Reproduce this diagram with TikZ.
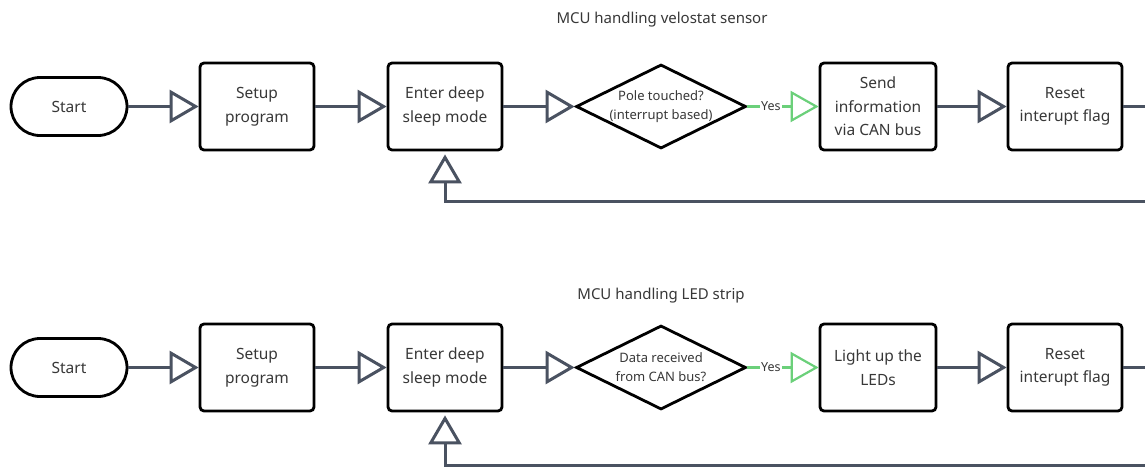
\documentclass[tikz,border=0pt]{standalone}
\usepackage{fontspec}
\setmainfont{Noto Sans}
\usetikzlibrary{arrows.meta,shapes.geometric}
\definecolor{edgegray}{HTML}{4A5261}
\definecolor{yesgreen}{HTML}{6BD07A}
\definecolor{txt}{HTML}{383838}
\tikzset{
  procbox/.style={draw=black, line width=2.8pt, rounded corners=4pt, fill=white,
    minimum width=114pt, minimum height=87pt, inner sep=2pt, align=center,
    text=txt, font=\fontsize{15.5}{23.5}\selectfont},
  termbox/.style={draw=black, line width=2.8pt, rounded corners=29pt, fill=white,
    minimum width=116pt, minimum height=58pt, text=txt, font=\fontsize{15.5}{23.5}\selectfont},
  decbox/.style={draw=black, line width=2.8pt, diamond, aspect=2, fill=white,
    minimum width=170pt, minimum height=84pt, inner sep=0pt, align=center,
    text=txt, font=\fontsize{13}{19}\selectfont},
  titletext/.style={text=txt, font=\fontsize{15}{18}\selectfont},
  plainline/.style={draw=edgegray, line width=3pt},
  flow/.style={plainline, -{Triangle[open, length=29pt, width=33pt, fill=white]}},
  yesflow/.style={draw=yesgreen, line width=2.2pt, -{Triangle[open, length=28pt, width=31pt, fill=white]}},
  yeslabel/.style={fill=white, text=txt, inner sep=1pt, font=\fontsize{12.5}{14}\selectfont},
}
\begin{document}
\begin{tikzpicture}[x=1pt, y=-1pt]
\useasboundingbox (0,0) rectangle (1145,469);
\clip (0,0) rectangle (1145,469);
\fill[white] (0,0) rectangle (1145,469);

% ---- velostat sensor controller ----
\node[titletext] (t1) at (662,20) {MCU handling velostat sensor};
\node[termbox] (s1) at (69,106.5) {Start};
\node[procbox] (p1) at (257,106.5) {Setup\\program};
\node[procbox] (e1) at (445,106.5) {Enter deep\\sleep mode};
\node[decbox] (d1) at (661,106.5) {Pole touched?\\(interrupt based)};
\node[procbox, minimum width=116pt] (c1) at (878,106.5) {Send\\information\\via CAN bus};
\node[procbox] (r1) at (1065,106.5) {Reset\\interupt flag};
\coordinate (o1) at (1160,106.5);
\coordinate (b1) at (1160,201);

\draw[flow] (s1) -- (p1);
\draw[flow] (p1) -- (e1);
\draw[flow] (e1) -- (d1);
\draw[yesflow] (d1) -- node[yeslabel, pos=0.33] {Yes} (c1);
\draw[flow] (c1) -- (r1);
\draw[plainline] (r1) -- (o1);
\draw[flow, shorten >=3pt] (b1) -| (e1.south);

% ---- LED strip controller ----
\node[titletext] (t2) at (661,296) {MCU handling LED strip};
\node[termbox] (s2) at (69,367.5) {Start};
\node[procbox] (p2) at (257,367.5) {Setup\\program};
\node[procbox] (e2) at (445,367.5) {Enter deep\\sleep mode};
\node[decbox] (d2) at (661,367.5) {Data received\\from CAN bus?};
\node[procbox, minimum width=116pt] (c2) at (878,367.5) {Light up the\\LEDs};
\node[procbox] (r2) at (1065,367.5) {Reset\\interupt flag};
\coordinate (o2) at (1160,367.5);
\coordinate (b2) at (1160,465);

\draw[flow] (s2) -- (p2);
\draw[flow] (p2) -- (e2);
\draw[flow] (e2) -- (d2);
\draw[yesflow] (d2) -- node[yeslabel, pos=0.33] {Yes} (c2);
\draw[flow] (c2) -- (r2);
\draw[plainline] (r2) -- (o2);
\draw[flow, shorten >=3pt] (b2) -| (e2.south);
\end{tikzpicture}
\end{document}
